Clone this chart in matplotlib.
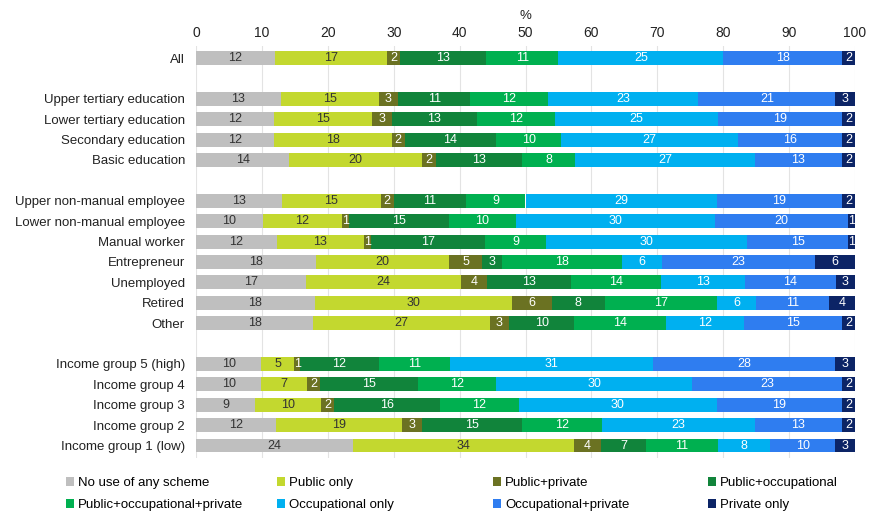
import matplotlib
matplotlib.use("Agg")
import matplotlib.pyplot as plt
import numpy as np
from matplotlib.patches import Patch

plt.rcParams['font.family'] = ['Liberation Sans', 'DejaVu Sans']

categories = [
    "All",
    "Upper tertiary education", "Lower tertiary education", "Secondary education", "Basic education",
    "Upper non-manual employee", "Lower non-manual employee", "Manual worker", "Entrepreneur",
    "Unemployed", "Retired", "Other",
    "Income group 5 (high)", "Income group 4", "Income group 3", "Income group 2", "Income group 1 (low)",
]
# slot index of each row (empty slots separate the groups)
slots = [0, 2, 3, 4, 5, 7, 8, 9, 10, 11, 12, 13, 15, 16, 17, 18, 19]

series_names = [
    "No use of any scheme", "Public only", "Public+private", "Public+occupational",
    "Public+occupational+private", "Occupational only", "Occupational+private", "Private only",
]

no_use       = [12, 13, 12, 12, 14, 13, 10, 12, 18, 17, 18, 18, 10, 10, 9, 12, 24]
public_only  = [17, 15, 15, 18, 20, 15, 12, 13, 20, 24, 30, 27, 5, 7, 10, 19, 34]
public_priv  = [2, 3, 3, 2, 2, 2, 1, 1, 5, 4, 6, 3, 1, 2, 2, 3, 4]
public_occ   = [13, 11, 13, 14, 13, 11, 15, 17, 3, 13, 8, 10, 12, 15, 16, 15, 7]
pub_occ_priv = [11, 12, 12, 10, 8, 9, 10, 9, 18, 14, 17, 14, 11, 12, 12, 12, 11]
occ_only     = [25, 23, 25, 27, 27, 29, 30, 30, 6, 13, 6, 12, 31, 30, 30, 23, 8]
occ_priv     = [18, 21, 19, 16, 13, 19, 20, 15, 23, 14, 11, 15, 28, 23, 19, 13, 10]
private_only = [2, 3, 2, 2, 2, 2, 1, 1, 6, 3, 4, 2, 3, 2, 2, 2, 3]

series = [no_use, public_only, public_priv, public_occ, pub_occ_priv, occ_only, occ_priv, private_only]
colors = ["#BFBFBF", "#C3D82F", "#6B7222", "#11843B", "#00B050", "#00B0F0", "#2F7DF0", "#0C2466"]
text_colors = ["#333333", "#333333", "white", "white", "white", "white", "white", "white"]

fig = plt.figure(figsize=(8.74, 5.12), dpi=100)
ax = fig.add_axes([196 / 874, 0.1059, 659 / 874, 0.8047])

# 100 % stacked bars: each row is scaled to its own total
values = np.array(series, dtype=float)
shares = values / values.sum(axis=0) * 100

y = np.array(slots, dtype=float)
left = np.zeros(len(categories))
for raw, sh, col, tcol in zip(values, shares, colors, text_colors):
    ax.barh(y, sh, left=left, height=0.68, color=col, edgecolor="none", zorder=3)
    for yi, li, wi, vi in zip(y, left, sh, raw):
        ax.text(li + wi / 2, yi, f"{int(vi)}", ha="center", va="center",
                fontsize=9, color=tcol, zorder=4)
    left += sh

ax.set_xlim(0, 100)
ax.set_ylim(19.6, -0.6)
ax.set_yticks(y)
ax.set_yticklabels(categories, fontsize=9.5, color="#222222")
ax.set_xticks(np.arange(0, 101, 10))
ax.xaxis.tick_top()
ax.xaxis.set_label_position("top")
ax.set_xlabel("%", fontsize=9.5, color="#222222", labelpad=5)
ax.tick_params(axis="x", length=0, labelsize=10, labelcolor="#222222", pad=4)
ax.tick_params(axis="y", length=0, pad=8)
ax.grid(axis="x", color="#E3E3E3", linewidth=0.8, zorder=0)
for s in ax.spines.values():
    s.set_visible(False)

# legend laid out as four columns of two entries
col_x = [66 / 874, 277 / 874, 493 / 874, 708 / 874]
for c in range(4):
    idx = [c, c + 4]
    handles = [Patch(facecolor=colors[i], edgecolor="none") for i in idx]
    labels = [series_names[i] for i in idx]
    fig.legend(handles, labels, loc="upper left", bbox_to_anchor=(col_x[c], 0.068),
               frameon=False, fontsize=9.5, handlelength=0.6, handleheight=0.6,
               handletextpad=0.3, labelspacing=0.75, borderpad=0, borderaxespad=0)

fig.savefig("out.png", dpi=100)
